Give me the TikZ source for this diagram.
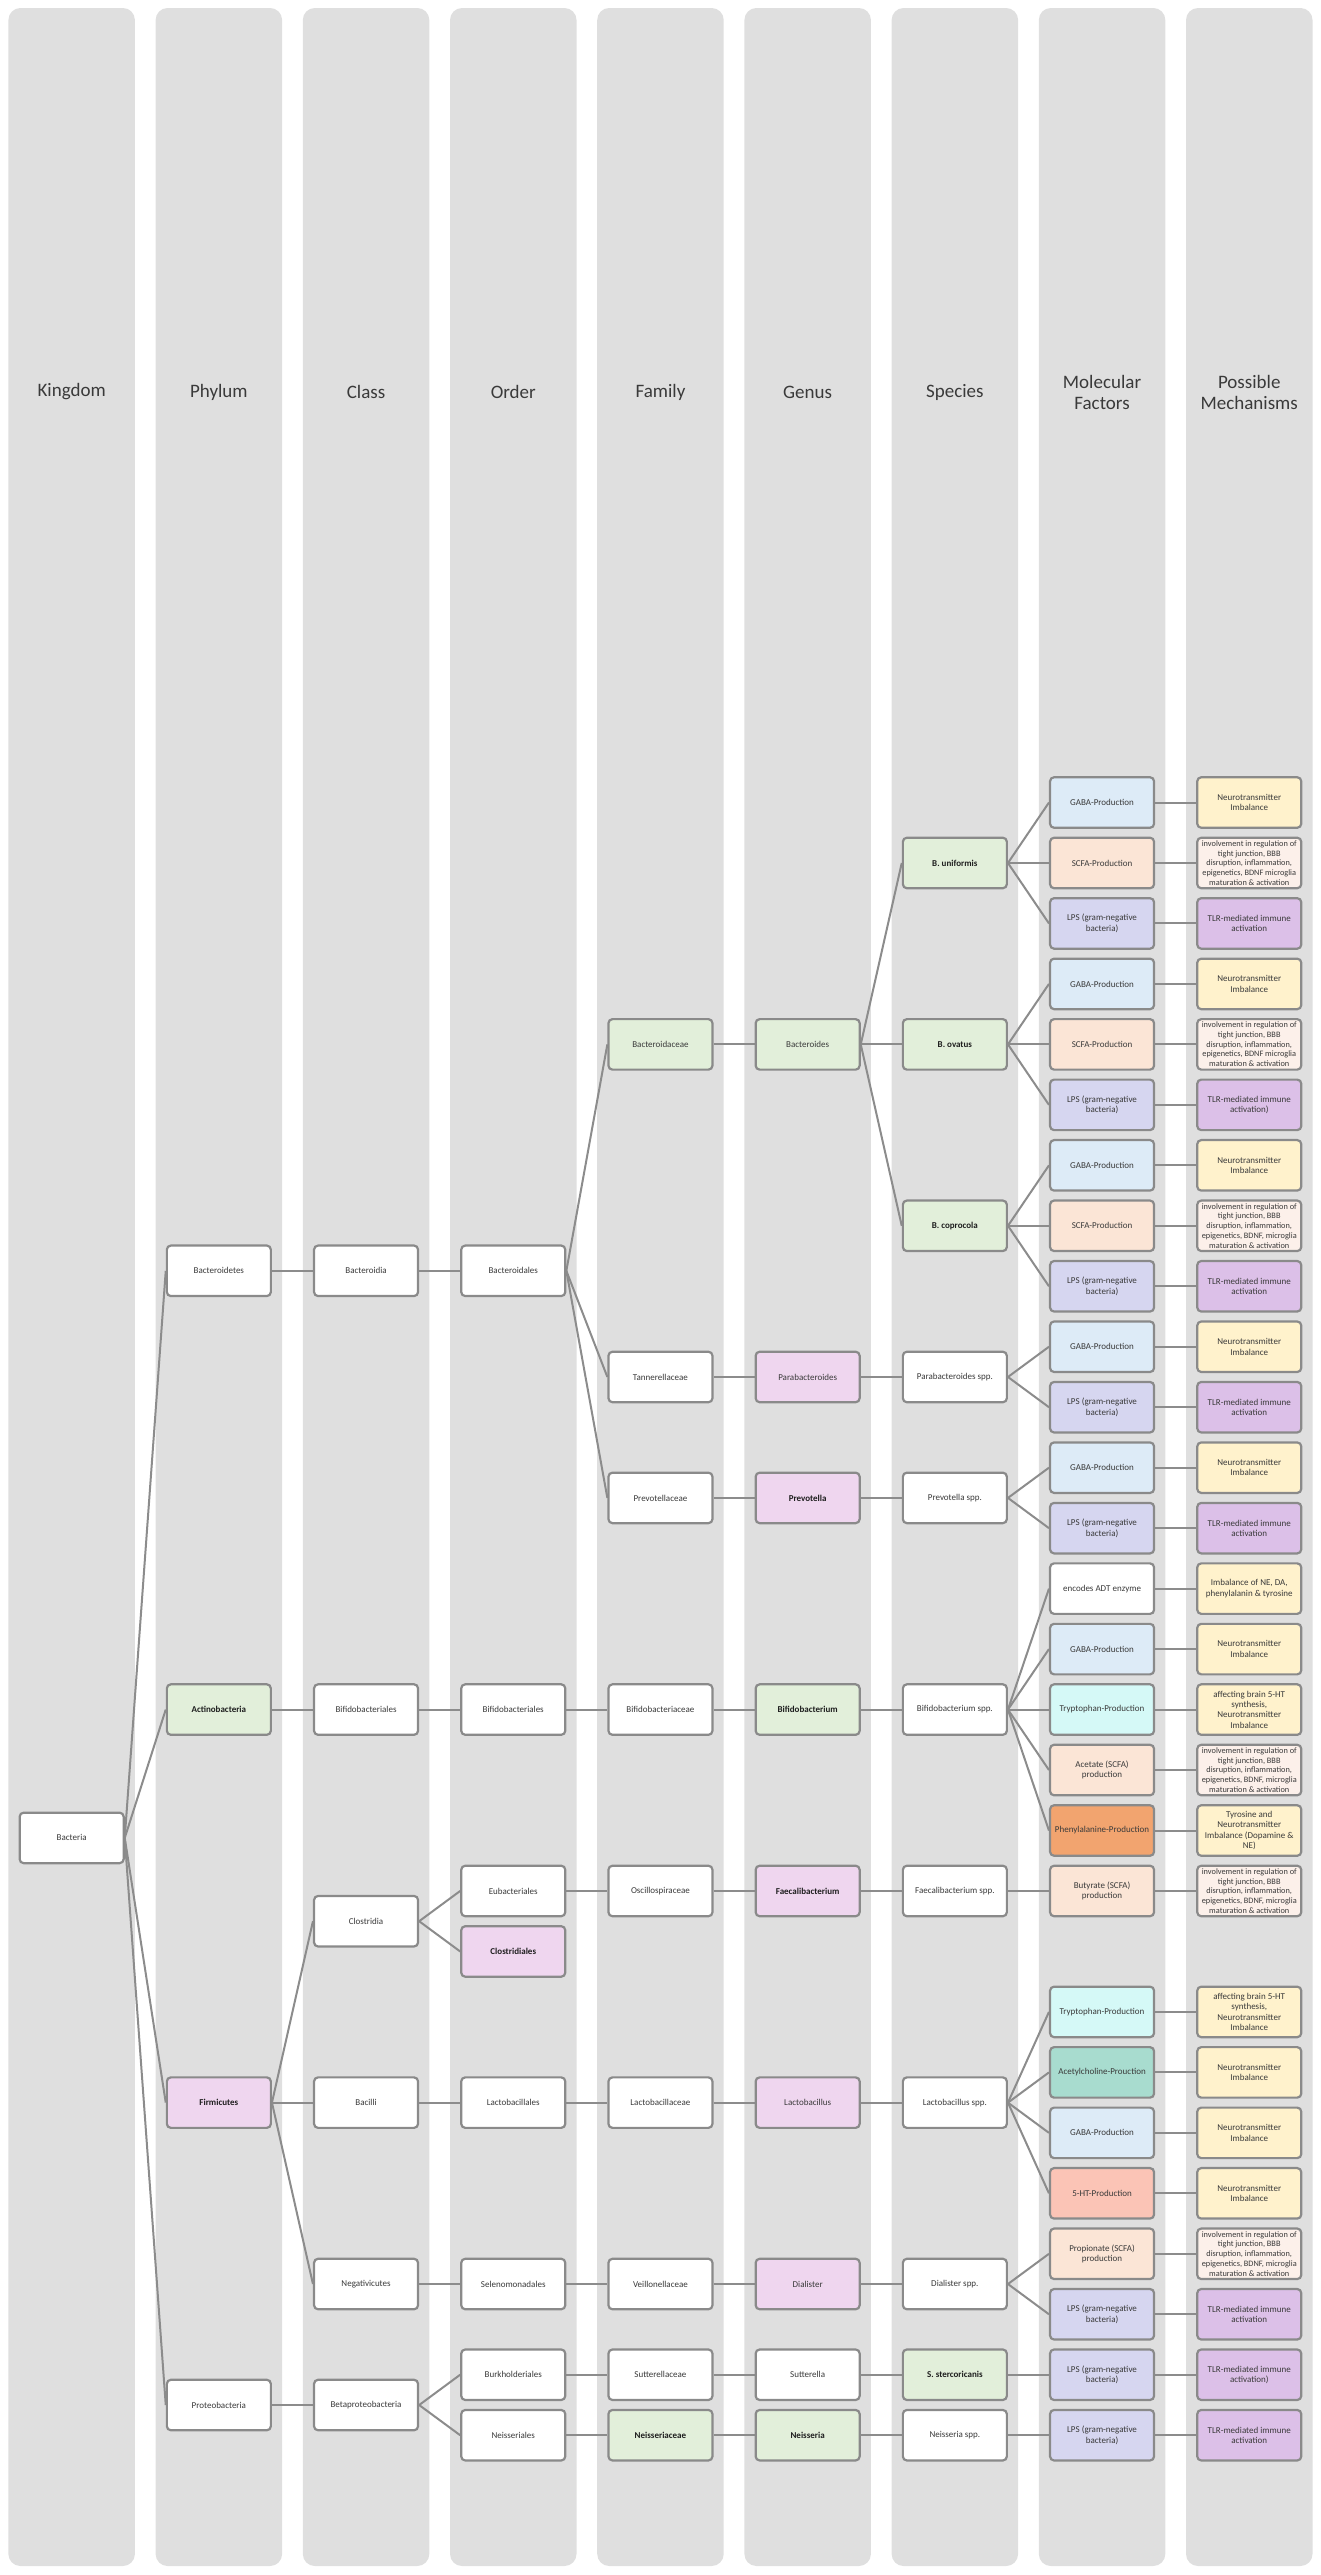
\documentclass[tikz,border=0pt]{standalone}
\usepackage{fontspec}
\setmainfont{Carlito}
\pgfdeclarelayer{cols}
\pgfdeclarelayer{links}
\pgfsetlayers{cols,links,main}
\definecolor{colbg}{HTML}{DFDFDF}
\definecolor{bord}{HTML}{8A8A8A}
\definecolor{lgray}{HTML}{8C8C8C}
\definecolor{txt}{HTML}{3A3A3A}
\definecolor{txtb}{HTML}{1E1E1E}
\definecolor{cgreen}{HTML}{E2EFDA}
\definecolor{cpink}{HTML}{EFD6EF}
\definecolor{cblue}{HTML}{DDEBF7}
\definecolor{cpeach}{HTML}{FBE5D6}
\definecolor{clps}{HTML}{D6D6F0}
\definecolor{cyell}{HTML}{FFF2CC}
\definecolor{cinv}{HTML}{FCF0EA}
\definecolor{ctlr}{HTML}{DCC0E8}
\definecolor{ccyan}{HTML}{D5F9F7}
\definecolor{cteal}{HTML}{A8DCCF}
\definecolor{csalm}{HTML}{FBC4B6}
\definecolor{corange}{HTML}{F2A46F}
\tikzset{
  bx/.style={draw=bord, line width=2.2pt, rounded corners=4pt, minimum width=104pt, minimum height=50.5pt, inner sep=1pt, align=center, text=txt, font=\fontsize{9}{10.4}\selectfont, fill=white},
  wh/.style={bx, fill=white},
  gr/.style={bx, fill=cgreen},
  pk/.style={bx, fill=cpink},
  bb/.style={font=\bfseries\fontsize{9}{10.4}\selectfont, text=txtb},
  sm/.style={font=\fontsize{8.3}{9.7}\selectfont},
  gaba/.style={bx, fill=cblue},
  scfa/.style={bx, fill=cpeach},
  lps/.style={bx, fill=clps},
  nimb/.style={bx, fill=cyell},
  invo/.style={bx, fill=cinv, sm},
  tlr/.style={bx, fill=ctlr},
  hdr/.style={font=\fontsize{19}{21}\selectfont, text=txt, align=center},
  conn/.style={draw=lgray, line width=2pt}
}
\begin{document}
\begin{tikzpicture}[x=1pt,y=-1pt]
\useasboundingbox (0,0) rectangle (1321,2575);
% columns
\begin{pgfonlayer}{cols}
\foreach \i in {0,...,8}{
  \fill[colbg, rounded corners=12pt] ({8.4+147.2*\i},8) rectangle ({134.9+147.2*\i},2566);
}
\end{pgfonlayer}
% headers
\node[hdr] (h0) at (71.65,392) {Kingdom};
\node[hdr] (h1) at (218.85,392) {Phylum};
\node[hdr] (h2) at (366.05,392) {Class};
\node[hdr] (h3) at (513.25,392) {Order};
\node[hdr] (h4) at (660.45,392) {Family};
\node[hdr] (h5) at (807.65,392) {Genus};
\node[hdr] (h6) at (954.85,392) {Species};
\node[hdr] (h7) at (1102.05,392) {Molecular\\Factors};
\node[hdr] (h8) at (1249.25,392) {Possible\\Mechanisms};

% Kingdom
\node[wh] (K) at (71.65,1837.9) {Bacteria};
% Phylum
\node[wh] (P1) at (218.85,1270.8) {Bacteroidetes};
\node[gr,bb] (P2) at (218.85,1709.55) {Actinobacteria};
\node[pk,bb] (P3) at (218.85,2102.6) {Firmicutes};
\node[wh] (P4) at (218.85,2405) {Proteobacteria};
% Class
\node[wh] (C1) at (366.05,1270.8) {Bacteroidia};
\node[wh] (C2) at (366.05,1709.55) {Bifidobacteriales};
\node[wh] (C3) at (366.05,1921.2) {Clostridia};
\node[wh] (C4) at (366.05,2102.6) {Bacilli};
\node[wh] (C5) at (366.05,2284.0) {Negativicutes};
\node[wh] (C6) at (366.05,2405) {Betaproteobacteria};
% Order
\node[wh] (O1) at (513.25,1270.8) {Bacteroidales};
\node[wh] (O2) at (513.25,1709.55) {Bifidobacteriales};
\node[wh] (O3) at (513.25,1890.96) {Eubacteriales};
\node[pk,bb] (O4) at (513.25,1951.43) {Clostridiales};
\node[wh] (O5) at (513.25,2102.6) {Lactobacillales};
\node[wh] (O6) at (513.25,2284.0) {Selenomonadales};
\node[wh] (O7) at (513.25,2374.72) {Burkholderiales};
\node[wh] (O8) at (513.25,2435.19) {Neisseriales};
% Family
\node[gr] (F1) at (660.45,1044.38) {Bacteroidaceae};
\node[wh] (F2) at (660.45,1376.97) {Tannerellaceae};
\node[wh] (F3) at (660.45,1497.9) {Prevotellaceae};
\node[wh] (F4) at (660.45,1709.55) {Bifidobacteriaceae};
\node[wh] (F5) at (660.45,1890.96) {Oscillospiraceae};
\node[wh] (F6) at (660.45,2102.6) {Lactobacillaceae};
\node[wh] (F7) at (660.45,2284.0) {Veillonellaceae};
\node[wh] (F8) at (660.45,2374.72) {Sutterellaceae};
\node[gr,bb] (F9) at (660.45,2435.19) {Neisseriaceae};
% Genus
\node[gr] (G1) at (807.65,1044.38) {Bacteroides};
\node[pk] (G2) at (807.65,1376.97) {Parabacteroides};
\node[pk,bb] (G3) at (807.65,1497.9) {Prevotella};
\node[gr,bb] (G4) at (807.65,1709.55) {Bifidobacterium};
\node[pk,bb] (G5) at (807.65,1890.96) {Faecalibacterium};
\node[pk] (G6) at (807.65,2102.6) {Lactobacillus};
\node[pk] (G7) at (807.65,2284.0) {Dialister};
\node[wh] (G8) at (807.65,2374.72) {Sutterella};
\node[gr,bb] (G9) at (807.65,2435.19) {Neisseria};
% Species
\node[gr,bb] (S1) at (954.85,862.97) {B. uniformis};
\node[gr,bb] (S2) at (954.85,1044.38) {B. ovatus};
\node[gr,bb] (S3) at (954.85,1225.79) {B. coprocola};
\node[wh] (S4) at (954.85,1376.97) {Parabacteroides spp.};
\node[wh] (S5) at (954.85,1497.9) {Prevotella spp.};
\node[wh] (S6) at (954.85,1709.55) {Bifidobacterium spp.};
\node[wh] (S7) at (954.85,1890.96) {Faecalibacterium spp.};
\node[wh] (S8) at (954.85,2102.6) {Lactobacillus spp.};
\node[wh] (S9) at (954.85,2284.0) {Dialister spp.};
\node[gr,bb] (S10) at (954.85,2374.72) {S. stercoricanis};
\node[wh] (S11) at (954.85,2435.19) {Neisseria spp.};
% Molecular factors
\node[gaba] (M1) at (1102.05,802.5) {GABA-Production};
\node[scfa] (M2) at (1102.05,862.97) {SCFA-Production};
\node[lps] (M3) at (1102.05,923.44) {LPS (gram-negative\\bacteria)};
\node[gaba] (M4) at (1102.05,983.91) {GABA-Production};
\node[scfa] (M5) at (1102.05,1044.38) {SCFA-Production};
\node[lps] (M6) at (1102.05,1104.85) {LPS (gram-negative\\bacteria)};
\node[gaba] (M7) at (1102.05,1165.32) {GABA-Production};
\node[scfa] (M8) at (1102.05,1225.79) {SCFA-Production};
\node[lps] (M9) at (1102.05,1286.26) {LPS (gram-negative\\bacteria)};
\node[gaba] (M10) at (1102.05,1346.73) {GABA-Production};
\node[lps] (M11) at (1102.05,1407.2) {LPS (gram-negative\\bacteria)};
\node[gaba] (M12) at (1102.05,1467.67) {GABA-Production};
\node[lps] (M13) at (1102.05,1528.14) {LPS (gram-negative\\bacteria)};
\node[wh] (M14) at (1102.05,1588.61) {encodes ADT enzyme};
\node[gaba] (M15) at (1102.05,1649.08) {GABA-Production};
\node[bx,fill=ccyan] (M16) at (1102.05,1709.55) {Tryptophan-Production};
\node[scfa] (M17) at (1102.05,1770.02) {Acetate (SCFA)\\production};
\node[bx,fill=corange] (M18) at (1102.05,1830.49) {Phenylalanine-Production};
\node[scfa] (M19) at (1102.05,1890.96) {Butyrate (SCFA)\\production};
\node[bx,fill=ccyan] (M21) at (1102.05,2011.9) {Tryptophan-Production};
\node[bx,fill=cteal] (M22) at (1102.05,2072.37) {Acetylcholine-Prouction};
\node[gaba] (M23) at (1102.05,2132.84) {GABA-Production};
\node[bx,fill=csalm] (M24) at (1102.05,2193.31) {5-HT-Production};
\node[scfa] (M25) at (1102.05,2253.78) {Propionate (SCFA)\\production};
\node[lps] (M26) at (1102.05,2314.25) {LPS (gram-negative\\bacteria)};
\node[lps] (M27) at (1102.05,2374.72) {LPS (gram-negative\\bacteria)};
\node[lps] (M28) at (1102.05,2435.19) {LPS (gram-negative\\bacteria)};
% Possible mechanisms
\node[nimb] (Q1) at (1249.25,802.5) {Neurotransmitter\\Imbalance};
\node[invo] (Q2) at (1249.25,862.97) {involvement in regulation of\\tight junction, BBB\\disruption, inflammation,\\epigenetics, BDNF microglia\\maturation \& activation};
\node[tlr] (Q3) at (1249.25,923.44) {TLR-mediated immune\\activation};
\node[nimb] (Q4) at (1249.25,983.91) {Neurotransmitter\\Imbalance};
\node[invo] (Q5) at (1249.25,1044.38) {involvement in regulation of\\tight junction, BBB\\disruption, inflammation,\\epigenetics, BDNF microglia\\maturation \& activation};
\node[tlr] (Q6) at (1249.25,1104.85) {TLR-mediated immune\\activation)};
\node[nimb] (Q7) at (1249.25,1165.32) {Neurotransmitter\\Imbalance};
\node[invo] (Q8) at (1249.25,1225.79) {involvement in regulation of\\tight junction, BBB\\disruption, inflammation,\\epigenetics, BDNF, microglia\\maturation \& activation};
\node[tlr] (Q9) at (1249.25,1286.26) {TLR-mediated immune\\activation};
\node[nimb] (Q10) at (1249.25,1346.73) {Neurotransmitter\\Imbalance};
\node[tlr] (Q11) at (1249.25,1407.2) {TLR-mediated immune\\activation};
\node[nimb] (Q12) at (1249.25,1467.67) {Neurotransmitter\\Imbalance};
\node[tlr] (Q13) at (1249.25,1528.14) {TLR-mediated immune\\activation};
\node[nimb] (Q14) at (1249.25,1588.61) {Imbalance of NE, DA,\\phenylalanin \& tyrosine};
\node[nimb] (Q15) at (1249.25,1649.08) {Neurotransmitter\\Imbalance};
\node[nimb] (Q16) at (1249.25,1709.55) {affecting brain 5-HT\\synthesis,\\Neurotransmitter\\Imbalance};
\node[invo] (Q17) at (1249.25,1770.02) {involvement in regulation of\\tight junction, BBB\\disruption, inflammation,\\epigenetics, BDNF, microglia\\maturation \& activation};
\node[nimb] (Q18) at (1249.25,1830.49) {Tyrosine and\\Neurotransmitter\\Imbalance (Dopamine \&\\NE)};
\node[invo] (Q19) at (1249.25,1890.96) {involvement in regulation of\\tight junction, BBB\\disruption, inflammation,\\epigenetics, BDNF, microglia\\maturation \& activation};
\node[nimb] (Q21) at (1249.25,2011.9) {affecting brain 5-HT\\synthesis,\\Neurotransmitter\\Imbalance};
\node[nimb] (Q22) at (1249.25,2072.37) {Neurotransmitter\\Imbalance};
\node[nimb] (Q23) at (1249.25,2132.84) {Neurotransmitter\\Imbalance};
\node[nimb] (Q24) at (1249.25,2193.31) {Neurotransmitter\\Imbalance};
\node[invo] (Q25) at (1249.25,2253.78) {involvement in regulation of\\tight junction, BBB\\disruption, inflammation,\\epigenetics, BDNF, microglia\\maturation \& activation};
\node[tlr] (Q26) at (1249.25,2314.25) {TLR-mediated immune\\activation};
\node[tlr] (Q27) at (1249.25,2374.72) {TLR-mediated immune\\activation)};
\node[tlr] (Q28) at (1249.25,2435.19) {TLR-mediated immune\\activation};

% connectors
\begin{pgfonlayer}{links}
\foreach \a/\b in {K/P1,K/P2,K/P3,K/P4,
  P1/C1,P2/C2,P3/C3,P3/C4,P3/C5,P4/C6,
  C1/O1,C2/O2,C3/O3,C3/O4,C4/O5,C5/O6,C6/O7,C6/O8,
  O1/F1,O1/F2,O1/F3,O2/F4,O3/F5,O5/F6,O6/F7,O7/F8,O8/F9,
  F1/G1,F2/G2,F3/G3,F4/G4,F5/G5,F6/G6,F7/G7,F8/G8,F9/G9,
  G1/S1,G1/S2,G1/S3,G2/S4,G3/S5,G4/S6,G5/S7,G6/S8,G7/S9,G8/S10,G9/S11,
  S1/M1,S1/M2,S1/M3,S2/M4,S2/M5,S2/M6,S3/M7,S3/M8,S3/M9,
  S4/M10,S4/M11,S5/M12,S5/M13,
  S6/M14,S6/M15,S6/M16,S6/M17,S6/M18,S7/M19,
  S8/M21,S8/M22,S8/M23,S8/M24,S9/M25,S9/M26,S10/M27,S11/M28}{
  \draw[conn] (\a.east) -- (\b.west);
}
\foreach \k in {1,...,19,21,22,...,28}{
  \draw[conn] (M\k.east) -- (Q\k.west);
}
\end{pgfonlayer}
\end{tikzpicture}
\end{document}
